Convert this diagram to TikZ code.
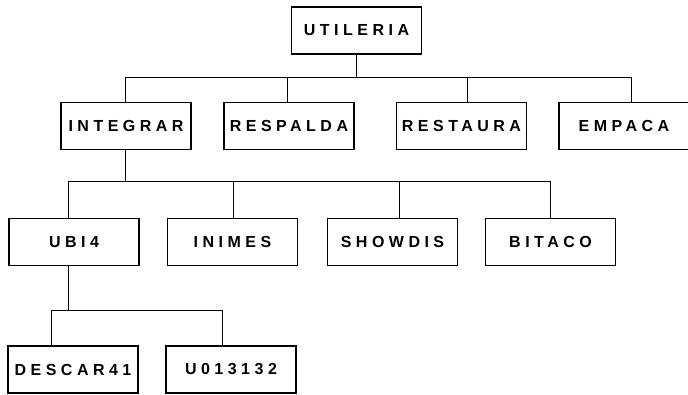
\documentclass[tikz,border=0pt]{standalone}
\usepackage{fontspec}
\newfontfamily\boxfont{Liberation Sans}[LetterSpace=28]

\begin{document}
\begin{tikzpicture}[x=1pt,y=-1pt,
		modulo/.style={draw, line width=1.6pt, minimum width=130pt, minimum height=47pt, inner sep=0pt,
			font=\boxfont\bfseries\fontsize{16}{19}\selectfont},
		link/.style={line width=1pt}]
		\useasboundingbox (0,0) rectangle (688,395);

		% nivel 1
		\node[modulo] (util) at (356.5,30.5) {UTILERIA};

		% nivel 2
		\node[modulo] (integ) at (126,126) {INTEGRAR};
		\node[modulo] (resp) at (289,126) {RESPALDA};
		\node[modulo] (rest) at (461.5,126) {RESTAURA};
		\node[modulo] (emp) at (624,126) {EMPACA};

		% nivel 3
		\node[modulo] (ubi) at (74,242) {UBI4};
		\node[modulo] (inim) at (232.5,242) {INIMES};
		\node[modulo] (show) at (392.5,242) {SHOWDIS};
		\node[modulo] (bita) at (550.5,242) {BITACO};

		% nivel 4
		\node[modulo] (desc) at (73,369.5) {DESCAR41};
		\node[modulo] (uo) at (231,369.5) {U013132};

		% ramas
		\foreach \n/\s in {integ/-1, resp/-2, rest/5.5, emp/7}
			\draw[link] (util.south) -- ++(0,23) -| ([xshift=\s pt]\n.north);
		\foreach \n/\s in {ubi/-6, inim/0.5, show/6.5, bita/0}
			\draw[link] ([xshift=-1pt]integ.south) -- ++(0,31) -| ([xshift=\s pt]\n.north);
		\foreach \n/\s in {desc/-22, uo/-9}
			\draw[link] ([xshift=-6pt]ubi.south) -- ++(0,44) -| ([xshift=\s pt]\n.north);
	\end{tikzpicture}
\end{document}
